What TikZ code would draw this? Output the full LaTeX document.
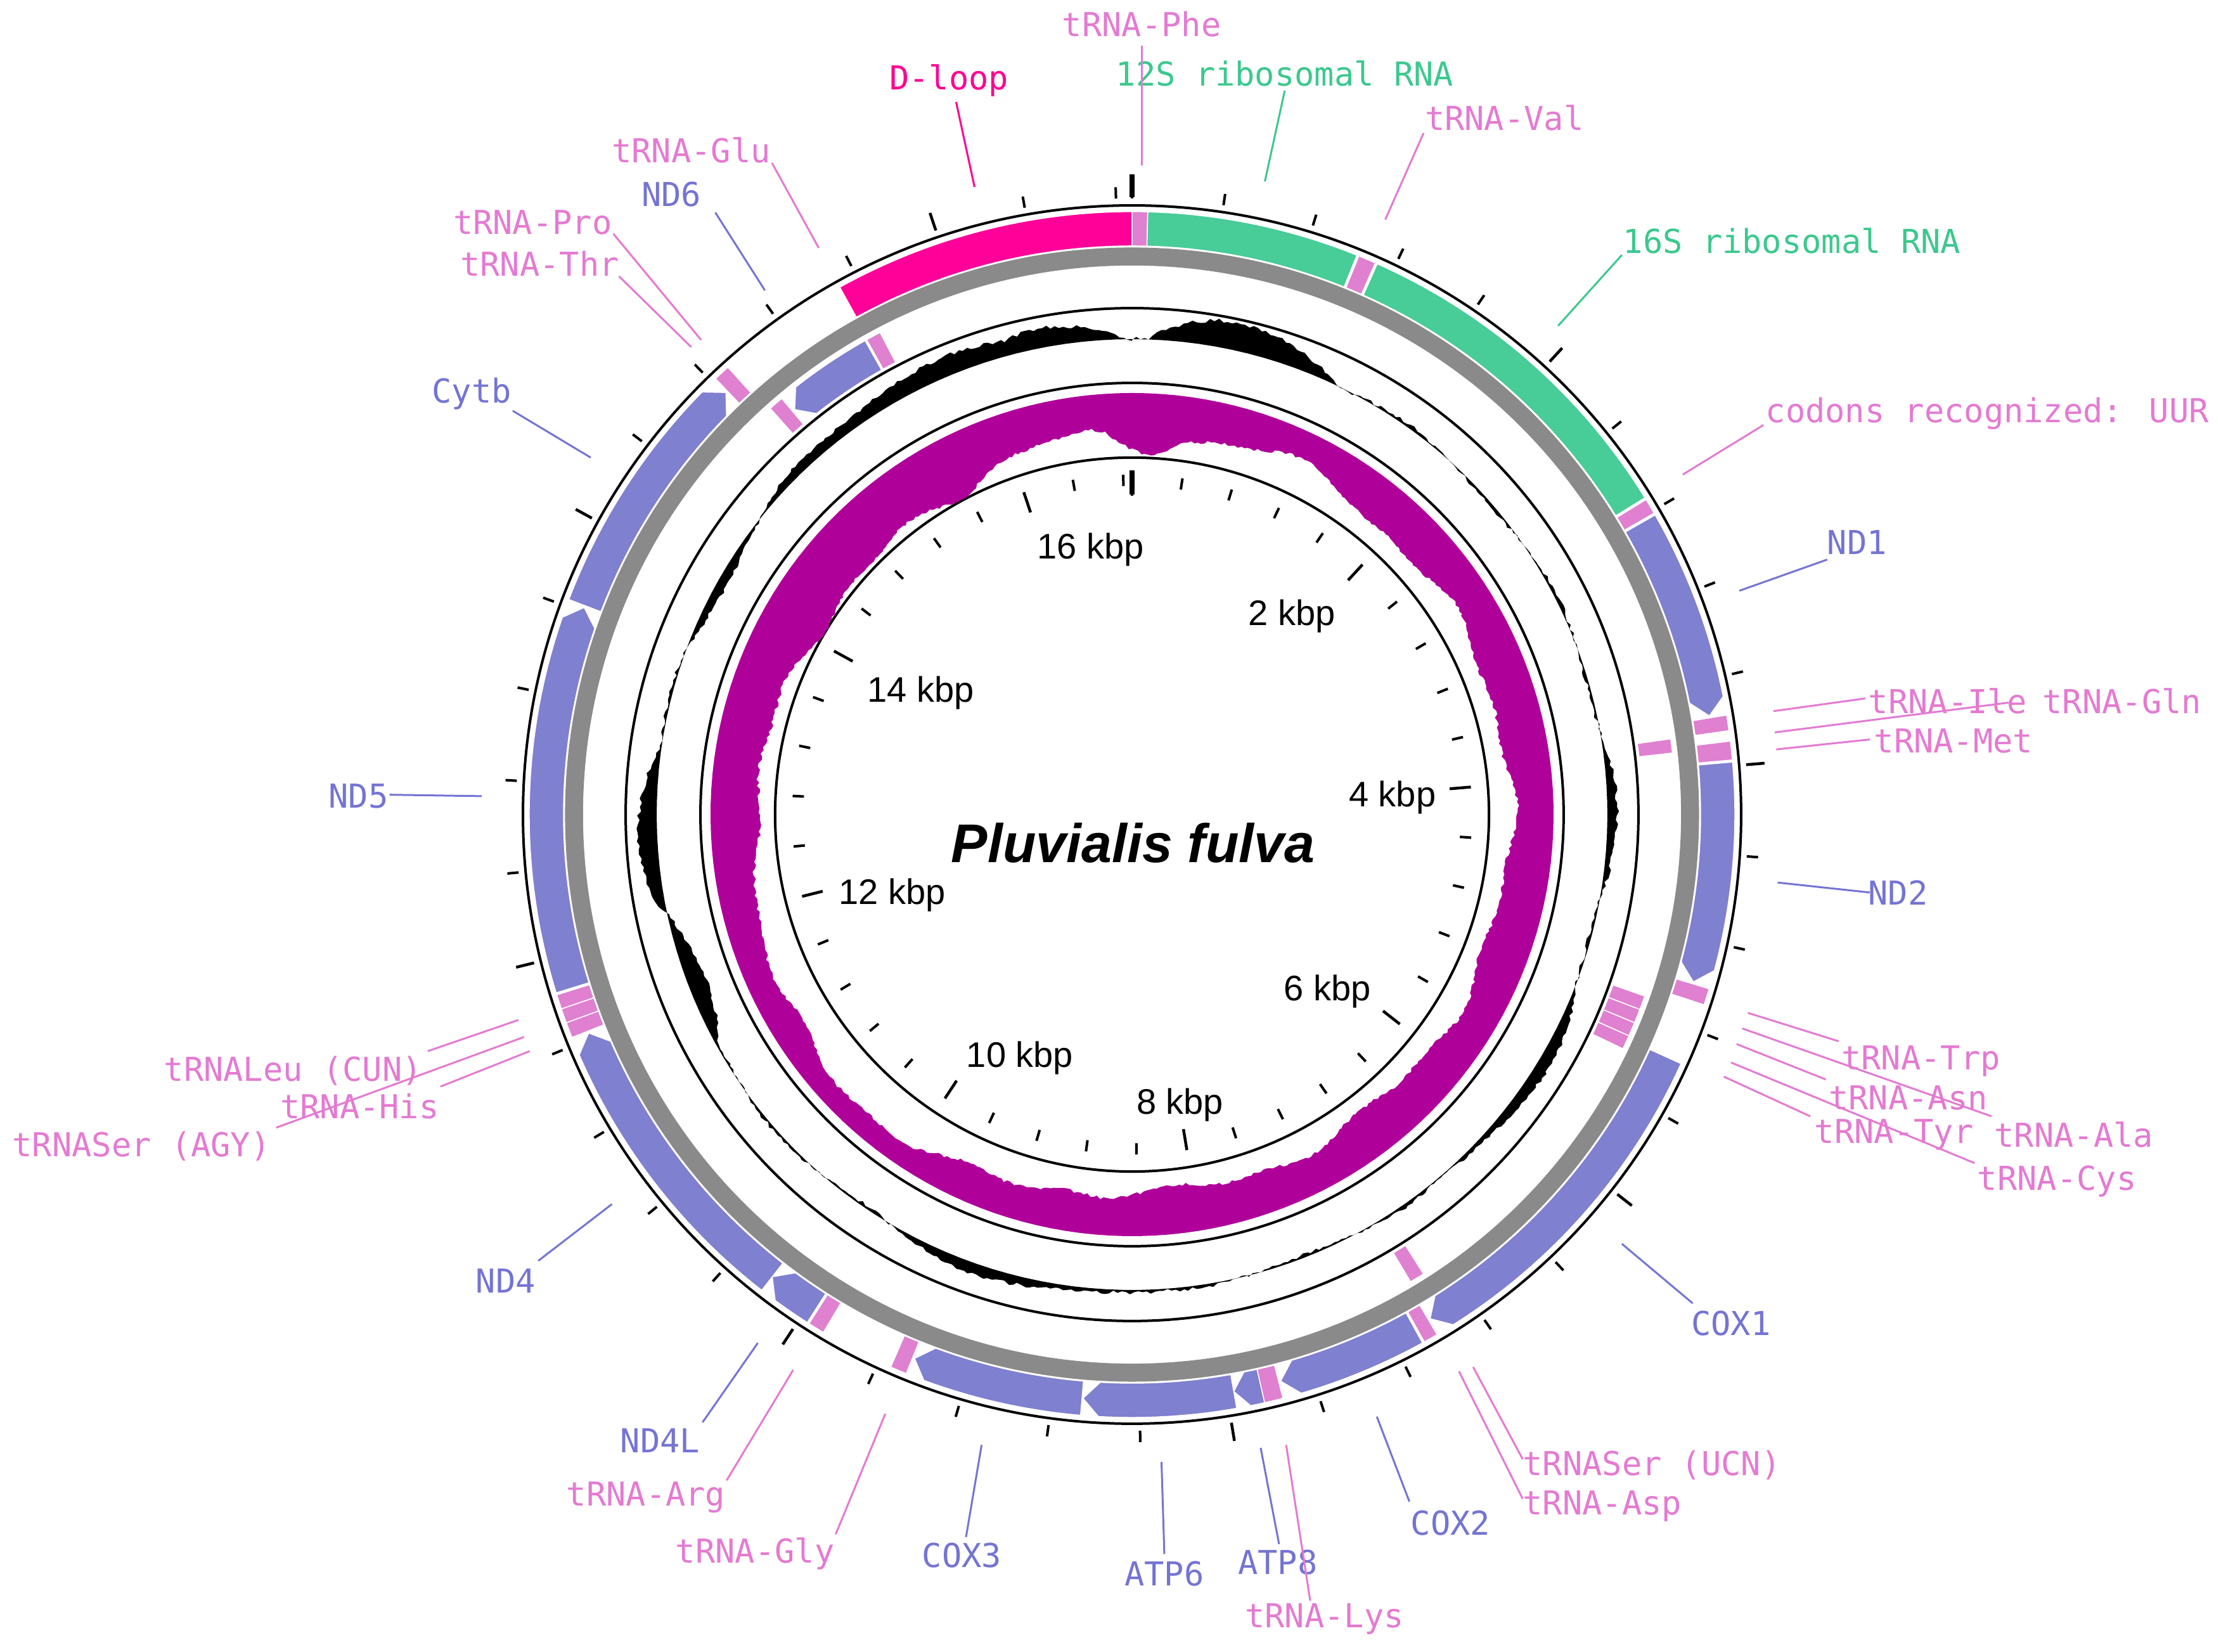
\documentclass[tikz,border=0pt]{standalone}
\usepackage{fontspec}
\setmainfont{Liberation Sans}
\newfontfamily\monof{DejaVu Sans Mono}
\definecolor{gene}{HTML}{8080D0}
\definecolor{trna}{HTML}{E080D0}
\definecolor{rrna}{HTML}{48CC98}
\definecolor{dloop}{HTML}{FF0099}
\definecolor{ringgray}{HTML}{8A8A8A}
\definecolor{skewc}{HTML}{B0009A}
\definecolor{lgene}{HTML}{7474D4}
\definecolor{ltrna}{HTML}{E47AD2}
\definecolor{lrrna}{HTML}{3CC88E}
\definecolor{ldloop}{HTML}{FF0090}
\pgfmathdeclarefunction{bmp}{3}{\begingroup\pgfmathparse{max(0,1-((#1-#2)/#3)^2)}\pgfmathsmuggle\pgfmathresult\endgroup}
\pgfmathdeclarefunction{gcv}{1}{\begingroup\pgfmathparse{12*bmp(#1,335,25)+12*bmp(#1,-25,25)+8*bmp(#1,352,7)+19*bmp(#1,14,12)+19*bmp(#1,374,12)+15*bmp(#1,268,10)-13*bmp(#1,250,9)+8*bmp(#1,125,14)+6*bmp(#1,195,18)+5*bmp(#1,90,12)-5*bmp(#1,300,10)+2*sin(13*#1)+1.4*rand}\pgfmathsmuggle\pgfmathresult\endgroup}
\pgfmathdeclarefunction{skw}{1}{\begingroup\pgfmathparse{30+12*bmp(#1,315,45)-13*bmp(#1,225,35)-8*bmp(#1,345,12)+10*bmp(#1,2,6)+10*bmp(#1,362,6)-6*bmp(#1,25,15)+3*sin(11*#1)+2*sin(23*#1+30)+1.2*rand}\pgfmathsmuggle\pgfmathresult\endgroup}
% outer-strand block
\newcommand\ofeat[3]{\pgfmathsetmacro\gS{#1-90}\pgfmathsetmacro\gE{#2-90}%
\fill[#3,draw=white,line width=1.5pt] plot[domain=\gS:\gE,samples=30] (\x:401.4) -- plot[domain=\gE:\gS,samples=30] (\x:425.6) -- cycle;}
% outer-strand gene with clockwise arrow
\newcommand\ogene[3]{\pgfmathsetmacro\gS{#1-90}\pgfmathsetmacro\gE{#2-90}\pgfmathsetmacro\gT{max(#2-90-1.6,(#1+#2)/2-90)}%
\fill[#3,draw=white,line width=1.5pt] plot[domain=\gS:\gT,samples=30] (\x:401.4) -- (\gE:413.5) -- plot[domain=\gT:\gS,samples=30] (\x:425.6) -- cycle;}
% inner-strand block
\newcommand\ifeat[3]{\pgfmathsetmacro\gS{#1-90}\pgfmathsetmacro\gE{#2-90}%
\fill[#3,draw=white,line width=1.5pt] plot[domain=\gS:\gE,samples=30] (\x:360.2) -- plot[domain=\gE:\gS,samples=30] (\x:384) -- cycle;}
% inner-strand gene with counter-clockwise arrow
\newcommand\igene[3]{\pgfmathsetmacro\gS{#1-90}\pgfmathsetmacro\gE{#2-90}\pgfmathsetmacro\gT{#1-90+1.6}%
\fill[#3,draw=white,line width=1.5pt] (\gS:372.1) -- plot[domain=\gT:\gE,samples=30] (\x:360.2) -- plot[domain=\gE:\gT,samples=30] (\x:384) -- cycle;}
\begin{document}
\begin{tikzpicture}[x=2.2347pt,y=-2.2347pt,
  lab/.style={font={\monof\fontsize{52}{58}\selectfont},inner sep=0pt},
  kb/.style={font={\fontsize{56}{60}\selectfont},inner sep=0pt},
  lead/.style={line width=3pt}]
\pgfmathsetseed{7}
\useasboundingbox (0,0) rectangle (1568,1166.1);
\begin{scope}[shift={(799.2,575)}]
% rings
\draw[line width=4pt] (0,0) circle[radius=430];
\fill[ringgray,even odd rule] (0,0) circle[radius=400.3] (0,0) circle[radius=387.6];
\draw[line width=4pt] (0,0) circle[radius=357.5];
\draw[line width=4pt] (0,0) circle[radius=304.7];
\draw[line width=4pt] (0,0) circle[radius=252];
% GC content
\fill[black] plot[domain=-90:270,samples=720] (\x:{335.6+gcv(\x+90)}) -- plot[domain=270:-90,samples=180] (\x:335.6) -- cycle;
% GC skew
\fill[skewc] plot[domain=-90:270,samples=720] (\x:{297.6-skw(\x+90)}) -- plot[domain=270:-90,samples=180] (\x:297.6) -- cycle;
% outer strand
\ofeat{0}{1.5}{trna}
\ofeat{1.5}{21.9}{rrna}
\ofeat{22.1}{23.8}{trna}
\ofeat{24}{58.3}{rrna}
\ofeat{58.5}{60}{trna}
\ogene{60.2}{80.3}{gene}
\ofeat{80.5}{82}{trna}
\ofeat{83}{84.8}{trna}
\ogene{85}{106.6}{gene}
\ofeat{106.8}{108.4}{trna}
\ogene{114.4}{149.4}{gene}
\ofeat{149.6}{151}{trna}
\ogene{151.2}{165.3}{gene}
\ofeat{165.5}{167.3}{trna}
\ogene{167.3}{170}{gene}
\ogene{170}{184.8}{gene}
\ogene{184.9}{201.8}{gene}
\ofeat{202}{203.6}{trna}
\ofeat{210.8}{212.4}{trna}
\ogene{212.6}{217.9}{gene}
\ogene{217.9}{248.1}{gene}
\ofeat{248.3}{249.8}{trna}
\ofeat{249.8}{251.2}{trna}
\ofeat{251.2}{252.6}{trna}
\ogene{252.8}{290.7}{gene}
\ogene{290.9}{316.1}{gene}
\ofeat{316.3}{317.9}{trna}
\ofeat{331}{360}{dloop}
% inner strand
\ifeat{82}{83.5}{trna}
\ifeat{109.5}{111}{trna}
\ifeat{111}{112.5}{trna}
\ifeat{112.5}{114}{trna}
\ifeat{114}{115.5}{trna}
\ifeat{147.6}{149.2}{trna}
\ifeat{318.3}{319.9}{trna}
\igene{320.2}{330.6}{gene}
\ifeat{330.8}{332.4}{trna}
% ticks
\foreach \k in {0,...,42}{%
  \pgfmathsetmacro\ta{\k*8.5358-90}\pgfmathtruncatemacro\m{mod(\k,5)}%
  \ifnum\m=0
    \draw[line width=4.5pt] (\ta:435) -- (\ta:448);
    \draw[line width=4.5pt] (\ta:225) -- (\ta:240);
  \else
    \draw[line width=4pt] (\ta:435) -- (\ta:443);
    \draw[line width=4pt] (\ta:232) -- (\ta:240);
  \fi}
\draw[line width=8pt] (-90:436) -- (-90:452);
\draw[line width=8pt] (-90:226) -- (-90:243);
\end{scope}
% scale labels
\node[kb] (k16) at (770,388) {16 kbp};
\node[kb] (k2) at (912,435) {2 kbp};
\node[kb] (k14) at (650,489) {14 kbp};
\node[kb] (k4) at (983,563) {4 kbp};
\node[kb] (k12) at (630,632) {12 kbp};
\node[kb] (k6) at (937,700) {6 kbp};
\node[kb] (k10) at (720,747) {10 kbp};
\node[kb] (k8) at (833,780) {8 kbp};
\node[inner sep=0pt,font={\bfseries\itshape\fontsize{86}{90}\selectfont}] (sp) at (800,595) {Pluvialis fulva};
% feature labels
\node[lab,ltrna] (tphe) at (806,17) {tRNA-Phe};
\node[lab,lrrna] (r12) at (907,52) {12S ribosomal RNA};
\node[lab,ldloop] (dl) at (670,57) {D-loop};
\node[lab,ltrna] (tval) at (1062,83) {tRNA-Val};
\node[lab,lrrna] (r16) at (1265,170) {16S ribosomal RNA};
\node[lab,ltrna] (tuur) at (1403,292) {codons recognized: UUR};
\node[lab,lgene] (nd1) at (1311,383) {ND1};
\node[lab,ltrna,anchor=west] (tile) at (1319,495) {tRNA-Ile};
\node[lab,ltrna,anchor=west] (tgln) at (1442,495) {tRNA-Gln};
\node[lab,ltrna,anchor=west] (tmet) at (1323,523) {tRNA-Met};
\node[lab,lgene] (nd2) at (1340,630) {ND2};
\node[lab,ltrna,anchor=west] (ttrp) at (1300,749) {tRNA-Trp};
\node[lab,ltrna,anchor=west] (tasn) at (1291,775) {tRNA-Asn};
\node[lab,ltrna,anchor=west] (ttyr) at (1281,801) {tRNA-Tyr};
\node[lab,ltrna,anchor=west] (tala) at (1408,801) {tRNA-Ala};
\node[lab,ltrna,anchor=west] (tcys) at (1396,834) {tRNA-Cys};
\node[lab,lgene] (cox1) at (1222,934) {COX1};
\node[lab,ltrna,anchor=west] (tsu) at (1075,1034) {tRNASer (UCN)};
\node[lab,ltrna,anchor=west] (tasp) at (1075,1063) {tRNA-Asp};
\node[lab,lgene] (cox2) at (1024,1075) {COX2};
\node[lab,lgene] (atp8) at (902,1103) {ATP8};
\node[lab,ltrna] (tlys) at (935,1143) {tRNA-Lys};
\node[lab,lgene] (atp6) at (822,1111) {ATP6};
\node[lab,lgene] (cox3) at (679,1098) {COX3};
\node[lab,ltrna] (tgly) at (533,1097) {tRNA-Gly};
\node[lab,ltrna] (targ) at (456,1057) {tRNA-Arg};
\node[lab,lgene] (nd4l) at (466,1017) {ND4L};
\node[lab,lgene] (nd4) at (357,904) {ND4};
\node[lab,ltrna,anchor=east] (tleu) at (298,756) {tRNALeu (CUN)};
\node[lab,ltrna,anchor=east] (this) at (310,781) {tRNA-His};
\node[lab,ltrna,anchor=east] (tsa) at (191,809) {tRNASer (AGY)};
\node[lab,lgene] (nd5) at (253,562) {ND5};
\node[lab,lgene] (cytb) at (333,278) {Cytb};
\node[lab,ltrna] (tpro) at (376,157) {tRNA-Pro};
\node[lab,ltrna] (tthr) at (381,186) {tRNA-Thr};
\node[lab,lgene] (nd6) at (474,137) {ND6};
\node[lab,ltrna] (tglu) at (488,106) {tRNA-Glu};
% leader lines
\newcommand\lead[6]{\coordinate (#1-a) at (#2,#3); \coordinate (#1-b) at (#4,#5); \draw[lead,#6] (#1-a) -- (#1-b);}
\lead{phe}{806}{117}{806}{32}{ltrna}
\lead{s12}{893}{128}{907}{64}{lrrna}
\lead{dl}{688}{132}{675}{72}{ldloop}
\lead{val}{978}{155}{1005}{94}{ltrna}
\lead{s16}{1100}{230}{1145}{180}{lrrna}
\lead{uur}{1188}{335}{1245}{300}{ltrna}
\lead{nd1}{1228}{417}{1290}{395}{lgene}
\lead{ile}{1252}{502}{1317}{493}{ltrna}
\lead{gln}{1253}{517}{1418}{496}{ltrna}
\lead{met}{1254}{529}{1320}{522}{ltrna}
\lead{nd2}{1255}{623}{1320}{630}{lgene}
\lead{trp}{1234}{715}{1298}{735}{ltrna}
\lead{ala}{1230}{726}{1406}{788}{ltrna}
\lead{asn}{1226}{737}{1289}{762}{ltrna}
\lead{cys}{1222}{750}{1394}{821}{ltrna}
\lead{tyr}{1217}{760}{1278}{788}{ltrna}
\lead{cox1}{1145}{878}{1195}{920}{lgene}
\lead{su}{1040}{965}{1075}{1030}{ltrna}
\lead{asp}{1030}{968}{1075}{1058}{ltrna}
\lead{cox2}{972}{1000}{995}{1060}{lgene}
\lead{atp8}{890}{1022}{903}{1090}{lgene}
\lead{lys}{908}{1020}{925}{1130}{ltrna}
\lead{atp6}{820}{1032}{822}{1097}{lgene}
\lead{cox3}{693}{1020}{682}{1085}{lgene}
\lead{gly}{625}{998}{590}{1083}{ltrna}
\lead{arg}{560}{967}{513}{1045}{ltrna}
\lead{nd4l}{535}{948}{496}{1004}{lgene}
\lead{nd4}{432}{850}{380}{890}{lgene}
\lead{leu}{366}{720}{302}{742}{ltrna}
\lead{sa}{370}{732}{195}{796}{ltrna}
\lead{his}{374}{742}{311}{767}{ltrna}
\lead{nd5}{340}{562}{275}{561}{lgene}
\lead{cytb}{417}{323}{362}{290}{lgene}
\lead{pro}{495}{240}{433}{165}{ltrna}
\lead{thr}{488}{245}{437}{195}{ltrna}
\lead{nd6}{540}{205}{505}{150}{lgene}
\lead{glu}{578}{175}{545}{115}{ltrna}
\end{tikzpicture}
\end{document}
